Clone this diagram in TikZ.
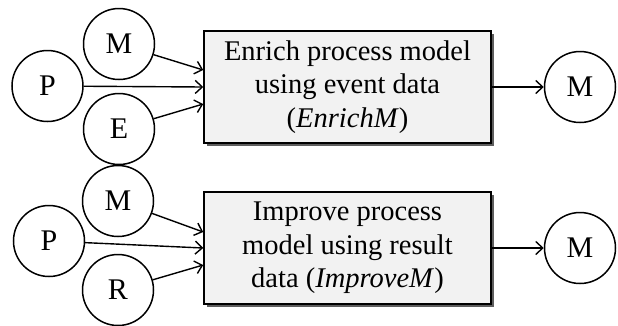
\documentclass[tikz,border=0pt]{standalone}
\usepackage{fontspec}
\setmainfont{Liberation Serif}
\usetikzlibrary{arrows.meta,shadows}
\begin{document}
\begin{tikzpicture}[x=1pt,y=-1pt,
  obj/.style={draw,line width=1.5pt,circle,minimum size=71pt,inner sep=0pt,font=\fontsize{30}{34}\selectfont},
  task/.style={draw,line width=1.5pt,fill=black!5,minimum width=287pt,minimum height=112pt,
    align=center,font=\fontsize{28.5}{33.5}\selectfont,
    drop shadow={shadow xshift=2.5pt,shadow yshift=-2.5pt,fill=black!70,opacity=0.9}},
  flow/.style={line width=1.4pt,-{Straight Barb[length=7pt,width=13pt,line width=1.4pt]}}]
\useasboundingbox (0,0) rectangle (618,325);
% upper step: enriching the model
\node[obj] (m1) at (119,44) {M};
\node[obj] (p1) at (47.5,86) {P};
\node[obj] (e1) at (119,129) {E};
\node[task] (enrich) at (347.5,87) {Enrich process model\\using event data\\(\textit{EnrichM})};
\node[obj] (mo1) at (580,87) {M};
\draw[flow] (m1) -- (enrich.west |- 0,70);
\draw[flow] (p1) -- (enrich.west |- 0,87);
\draw[flow] (e1) -- (enrich.west |- 0,104);
\draw[flow] (enrich) -- (mo1);
% lower step: improving the model
\node[obj] (m2) at (118,201) {M};
\node[obj] (p2) at (49,241) {P};
\node[obj] (r2) at (118,290) {R};
\node[task] (improve) at (347.5,248) {Improve process\\model using result\\data (\textit{ImproveM})};
\node[obj] (mo2) at (580,248) {M};
\draw[flow] (m2) -- (improve.west |- 0,232);
\draw[flow] (p2) -- (improve.west |- 0,248);
\draw[flow] (r2) -- (improve.west |- 0,265);
\draw[flow] (improve) -- (mo2);
\end{tikzpicture}
\end{document}
